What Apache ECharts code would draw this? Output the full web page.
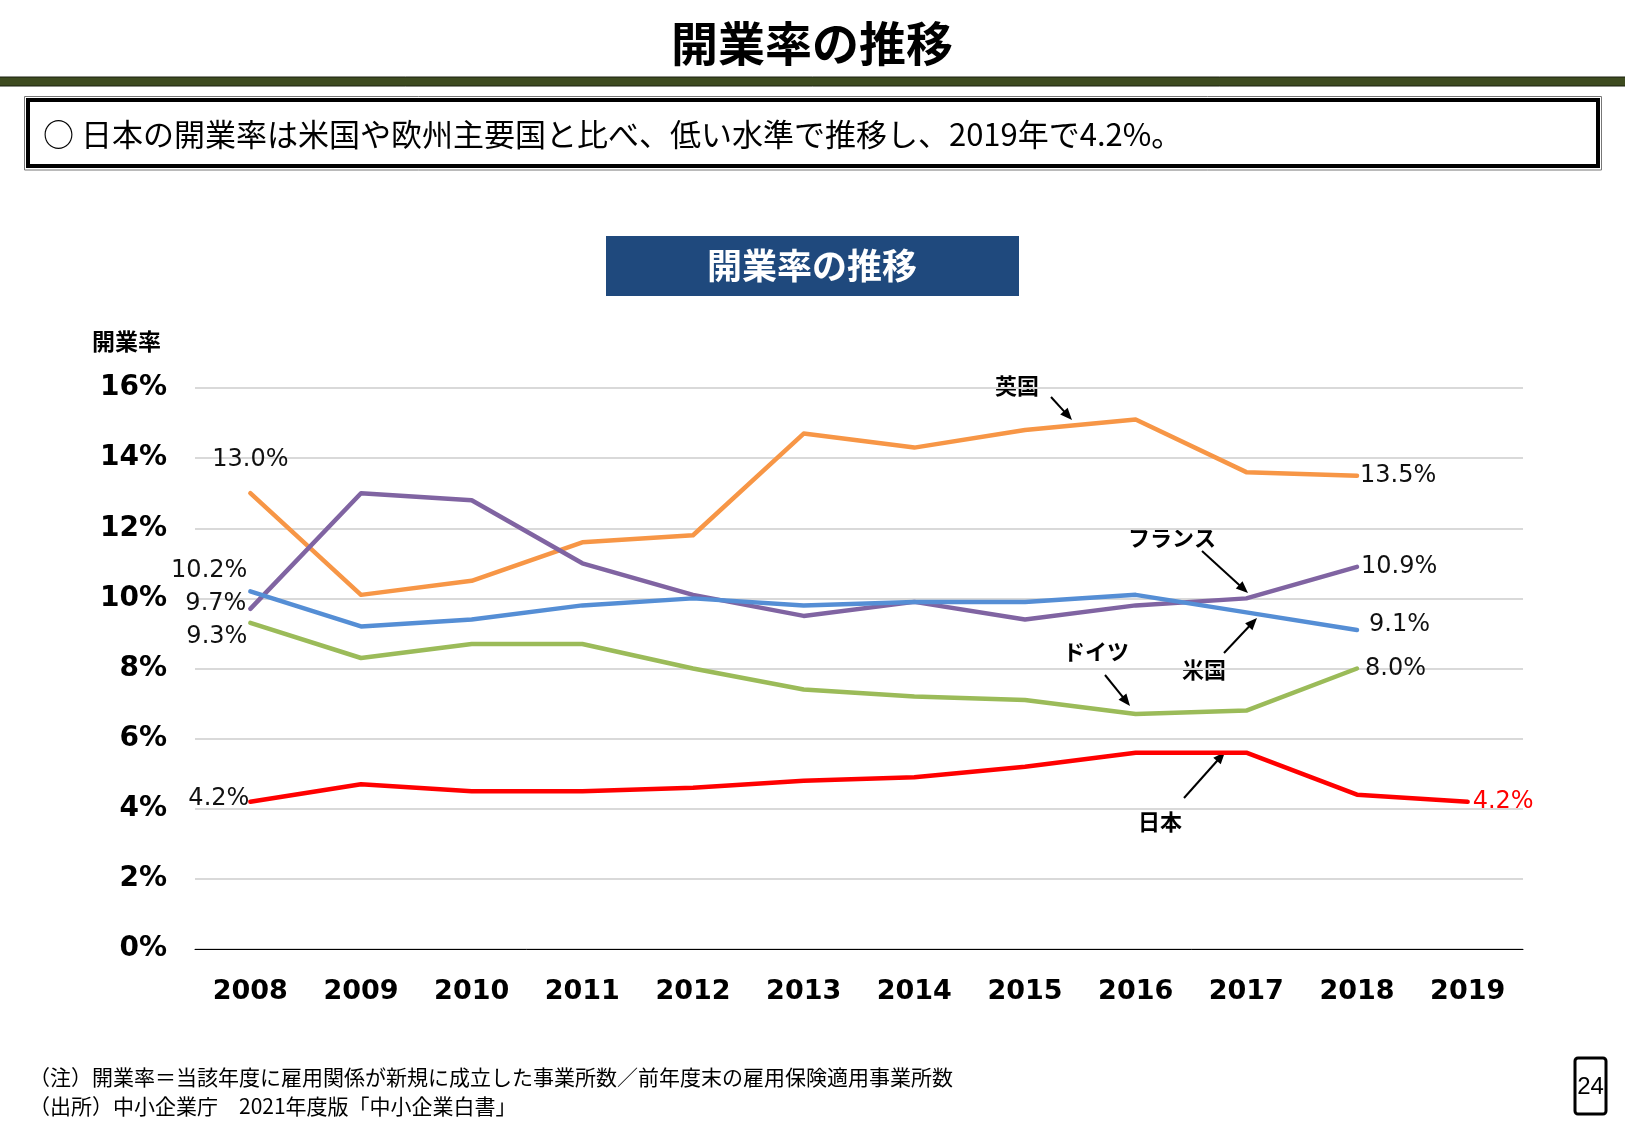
<!DOCTYPE html>
<html>
<head>
<meta charset="utf-8">
<script src="https://cdn.jsdelivr.net/npm/echarts@6/dist/echarts.min.js"></script>
<style>
html, body { margin: 0; padding: 0; background: #fff; }
#main { width: 1625px; height: 1125px; }
</style>
</head>
<body>
<div id="main"></div>
<script>
var years = ['2008', '2009', '2010', '2011', '2012', '2013', '2014', '2015', '2016', '2017', '2018', '2019'];
var ukRates      = [13.0, 10.1, 10.5, 11.6, 11.8, 14.7, 14.3, 14.8, 15.1, 13.6, 13.5];
var franceRates  = [9.7, 13.0, 12.8, 11.0, 10.1, 9.5, 9.9, 9.4, 9.8, 10.0, 10.9];
var usRates      = [10.2, 9.2, 9.4, 9.8, 10.0, 9.8, 9.9, 9.9, 10.1, 9.6, 9.1];
var germanyRates = [9.3, 8.3, 8.7, 8.7, 8.0, 7.4, 7.2, 7.1, 6.7, 6.8, 8.0];
var japanRates   = [4.2, 4.7, 4.5, 4.5, 4.6, 4.8, 4.9, 5.2, 5.6, 5.6, 4.4, 4.2];

var cjk = '"Noto Sans CJK JP", sans-serif';
var num = '"DejaVu Sans", sans-serif';

var myChart = echarts.init(document.getElementById('main'));

// end-point labels: index -> label placement
function withLabels(values, labels) {
    return values.map(function (v, i) {
        var item = { value: v };
        if (labels[i]) {
            item.label = Object.assign({ show: true }, labels[i]);
        }
        return item;
    });
}

function arrow(x1, y1, x2, y2) {
    var dx = x2 - x1, dy = y2 - y1;
    var len = Math.sqrt(dx * dx + dy * dy);
    var ux = dx / len, uy = dy / len;
    var hl = 12, hw = 5;
    var bx = x2 - ux * hl, by = y2 - uy * hl;
    return [
        { type: 'line', shape: { x1: x1, y1: y1, x2: bx + ux * 2, y2: by + uy * 2 }, style: { stroke: '#000', lineWidth: 2 } },
        { type: 'polygon', shape: { points: [[x2, y2], [bx - uy * hw, by + ux * hw], [bx + uy * hw, by - ux * hw]] }, style: { fill: '#000' } }
    ];
}

function note(text, x, y) {
    return { type: 'text', x: x, y: y, style: { text: text, font: 'bold 22px ' + cjk, fill: '#000', align: 'center', verticalAlign: 'middle' } };
}

var labelStyle = {
    show: false,
    fontFamily: num,
    fontSize: 24,
    color: '#111',
    formatter: function (p) { return p.value.toFixed(1) + '%'; }
};

function lineSeries(name, color, data) {
    return {
        name: name,
        type: 'line',
        data: data,
        symbol: 'circle',
        symbolSize: 0,
        showSymbol: true,
        showAllSymbol: true,
        itemStyle: { color: color },
        lineStyle: { color: color, width: 4.5, cap: 'round', join: 'round' },
        label: labelStyle,
        emphasis: { disabled: true },
        animation: false
    };
}

var graphics = [
    { type: 'text', x: 812, y: 43, style: { text: '開業率の推移', font: 'bold 47px ' + cjk, fill: '#000', align: 'center', verticalAlign: 'middle' } },
    { type: 'rect', shape: { x: -1, y: 77, width: 1627, height: 9 }, style: { fill: '#3D4B1F', stroke: '#1b2010', lineWidth: 1 } },
    { type: 'rect', shape: { x: 24.5, y: 96.5, width: 1577, height: 73.5 }, style: { fill: 'none', stroke: '#777', lineWidth: 1 } },
    { type: 'rect', shape: { x: 28, y: 100, width: 1570, height: 66 }, style: { fill: '#fff', stroke: '#000', lineWidth: 4 } },
    { type: 'text', x: 43, y: 134, style: { text: '○ 日本の開業率は米国や欧州主要国と比べ、低い水準で推移し、2019年で4.2%。', font: '31px ' + cjk, fill: '#000', align: 'left', verticalAlign: 'middle' } },
    { type: 'rect', shape: { x: 606, y: 236, width: 413, height: 60 }, style: { fill: '#1F497D' } },
    { type: 'text', x: 812, y: 266, style: { text: '開業率の推移', font: 'bold 35px ' + cjk, fill: '#fff', align: 'center', verticalAlign: 'middle' } },
    { type: 'text', x: 92, y: 341, style: { text: '開業率', font: 'bold 23px ' + cjk, fill: '#000', align: 'left', verticalAlign: 'middle' } },
    note('英国', 1017, 386),
    note('フランス', 1172, 538),
    note('米国', 1204, 670),
    note('ドイツ', 1096, 652),
    note('日本', 1160, 822),
    { type: 'text', x: 29, y: 1077, style: { text: '（注）開業率＝当該年度に雇用関係が新規に成立した事業所数／前年度末の雇用保険適用事業所数', font: '21px ' + cjk, fill: '#000', align: 'left', verticalAlign: 'middle' } },
    { type: 'text', x: 29, y: 1106, style: { text: '（出所）中小企業庁　2021年度版「中小企業白書」', font: '21px ' + cjk, fill: '#000', align: 'left', verticalAlign: 'middle' } },
    { type: 'rect', shape: { x: 1575, y: 1058, width: 31, height: 56, r: 3 }, style: { fill: '#fff', stroke: '#000', lineWidth: 3 } },
    { type: 'text', x: 1590.5, y: 1087, style: { text: '24', font: '24px "Liberation Sans", sans-serif', fill: '#000', align: 'center', verticalAlign: 'middle' } }
];
graphics = graphics
    .concat(arrow(1051, 397, 1072, 420))
    .concat(arrow(1202, 551, 1248, 593))
    .concat(arrow(1224, 653, 1257, 618))
    .concat(arrow(1105, 675, 1130, 706))
    .concat(arrow(1184, 798, 1225, 752));

option = {
    backgroundColor: '#fff',
    animation: false,
    grid: { left: 195, right: 102, top: 388, bottom: 176, containLabel: false },
    xAxis: {
        type: 'category',
        data: years,
        boundaryGap: true,
        axisLine: { lineStyle: { color: '#000', width: 1 } },
        axisTick: { show: false },
        axisLabel: { margin: 29, fontFamily: num, fontWeight: 'bold', fontSize: 27, color: '#000' }
    },
    yAxis: {
        type: 'value',
        min: 0,
        max: 16,
        interval: 2,
        axisLine: { show: false },
        axisTick: { show: false },
        splitLine: { lineStyle: { color: '#D9D9D9', width: 2 } },
        axisLabel: { margin: 28, fontFamily: num, fontWeight: 'bold', fontSize: 28, color: '#000', formatter: '{value}%' }
    },
    series: [
        lineSeries('英国', '#F79646', withLabels(ukRates, {
            0: { position: 'top', distance: 21 },
            10: { position: 'right', distance: 3 }
        })),
        lineSeries('フランス', '#8064A2', withLabels(franceRates, {
            0: { position: 'left', distance: 4, offset: [0, -5] },
            10: { position: 'right', distance: 4 }
        })),
        lineSeries('米国', '#558ED5', withLabels(usRates, {
            0: { position: 'left', distance: 3, offset: [0, -21] },
            10: { position: 'right', distance: 12, offset: [0, -5] }
        })),
        lineSeries('ドイツ', '#9BBB59', withLabels(germanyRates, {
            0: { position: 'left', distance: 3, offset: [0, 14] },
            10: { position: 'right', distance: 8 }
        })),
        lineSeries('日本', '#FF0000', withLabels(japanRates, {
            0: { position: 'left', distance: 1, offset: [0, -3] },
            11: { position: 'right', distance: 5, color: '#FF0000' }
        }))
    ],
    graphic: graphics
};

myChart.setOption(option);
</script>
</body>
</html>
